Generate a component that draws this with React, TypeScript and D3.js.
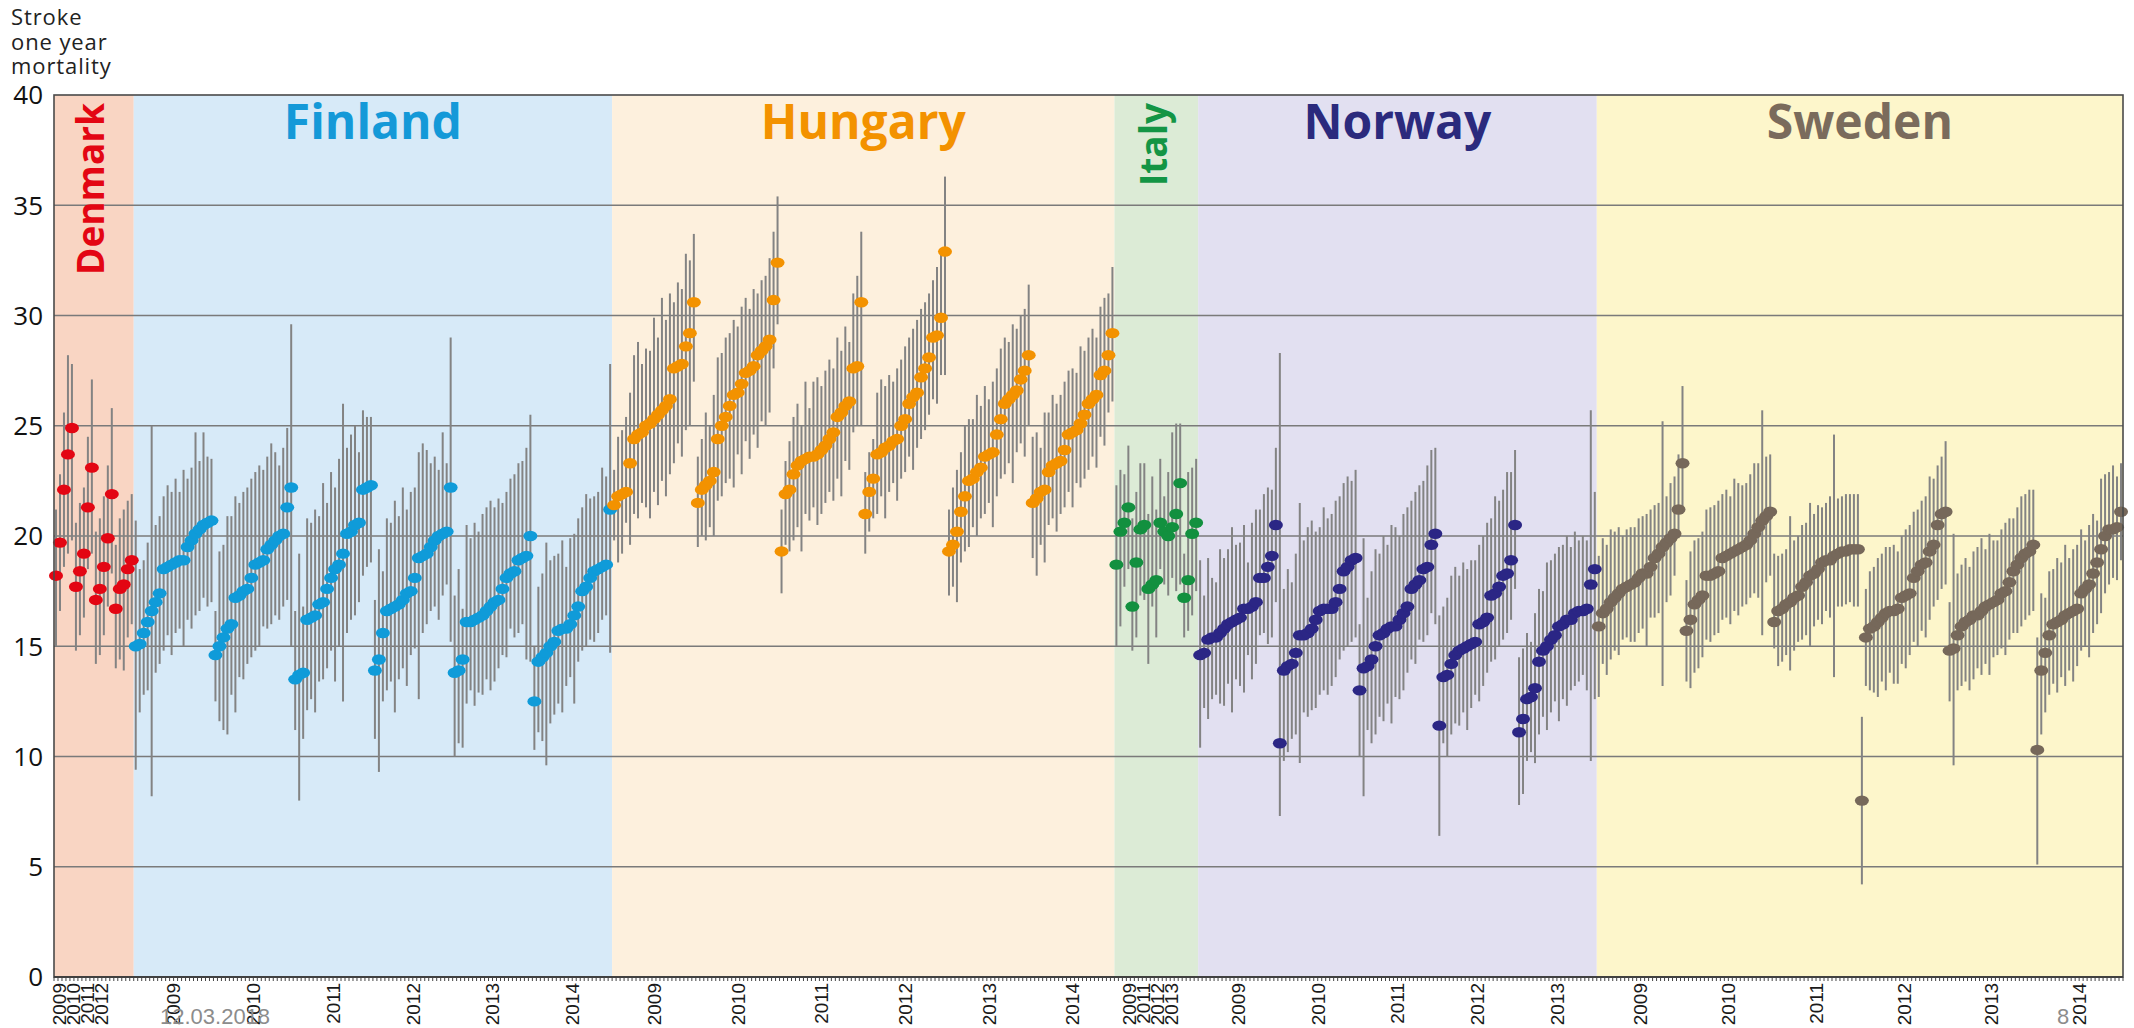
import React from "react";
import * as d3 from "d3";

// ---------------- DATA ----------------
const yTicks = [0, 5, 10, 15, 20, 25, 30, 35, 40];
const axisTitleLines = ["Stroke", "one year", "mortality"];

const denmarkYears = [2009, 2010, 2011, 2012];
const denmarkVal = [
  [18.2, 19.7, 22.1, 23.7, 24.9],
  [17.7, 18.4, 19.2, 21.3, 23.1],
  [17.1, 17.6, 18.6, 19.9, 21.9],
  [16.7, 17.6, 17.8, 18.5, 18.9],
];
const denmarkLo = [
  [15.0, 16.6, 18.6, 19.2, 19.8],
  [14.8, 15.5, 16.3, 18.5, 19.2],
  [14.2, 14.6, 15.5, 16.8, 18.3],
  [14.0, 14.4, 13.9, 15.4, 16.0],
];
const denmarkHi = [
  [21.2, 22.8, 25.6, 28.2, 27.8],
  [20.6, 21.5, 22.2, 24.5, 27.1],
  [20.2, 20.8, 21.8, 23.2, 25.8],
  [19.6, 20.8, 21.2, 21.6, 21.9],
];

const finlandYears = [2009, 2010, 2011, 2012, 2013, 2014];
const finlandVal = [
  [15.0, 15.1, 15.6, 16.1, 16.6, 17.0, 17.4, 18.5, 18.6, 18.7, 18.8, 18.9, 18.9, 19.5, 19.8, 20.1, 20.3, 20.5, 20.6, 20.7],
  [14.6, 15.0, 15.4, 15.8, 16.0, 17.2, 17.3, 17.5, 17.6, 18.1, 18.7, 18.8, 18.9, 19.4, 19.6, 19.8, 20.0, 20.1, 21.3, 22.2],
  [13.5, 13.7, 13.8, 16.2, 16.3, 16.4, 16.9, 17.0, 17.6, 18.1, 18.5, 18.7, 19.2, 20.1, 20.2, 20.5, 20.6, 22.1, 22.2, 22.3],
  [13.9, 14.4, 15.6, 16.6, 16.7, 16.8, 16.9, 17.1, 17.4, 17.5, 18.1, 19.0, 19.1, 19.2, 19.5, 19.8, 20.0, 20.1, 20.2, 22.2],
  [13.8, 13.9, 14.4, 16.1, 16.1, 16.2, 16.3, 16.4, 16.6, 16.8, 17.0, 17.1, 17.6, 18.1, 18.3, 18.4, 18.9, 19.0, 19.1, 20.0],
  [12.5, 14.3, 14.5, 14.7, 15.0, 15.2, 15.7, 15.8, 15.8, 16.0, 16.4, 16.8, 17.5, 17.7, 18.1, 18.4, 18.5, 18.6, 18.7, 21.2],
];
const finlandLo = [
  [9.4, 12.0, 12.8, 13.0, 8.2, 13.8, 14.2, 14.8, 15.5, 14.6, 15.6, 15.8, 15.0, 16.2, 15.8, 16.4, 16.6, 17.2, 16.8, 17.0],
  [12.5, 11.6, 11.2, 11.0, 12.8, 12.0, 13.6, 13.5, 14.2, 14.5, 14.8, 15.0, 15.9, 15.8, 16.0, 16.4, 16.2, 16.8, 17.1, 15.0],
  [11.2, 8.0, 10.8, 12.1, 12.6, 12.0, 13.4, 13.5, 14.0, 14.8, 13.4, 15.0, 12.5, 15.6, 16.2, 16.4, 17.0, 18.2, 18.6, 18.8],
  [10.8, 9.3, 12.5, 13.0, 13.4, 12.0, 13.5, 14.0, 13.2, 14.6, 14.9, 12.6, 15.6, 16.0, 16.6, 16.8, 16.2, 17.3, 17.8, 15.2],
  [10.0, 10.6, 10.4, 12.4, 13.0, 12.3, 12.9, 12.8, 13.5, 13.0, 13.4, 14.0, 14.6, 14.5, 15.8, 15.4, 15.6, 16.0, 14.4, 14.3],
  [10.3, 11.1, 10.7, 9.6, 11.5, 11.9, 12.4, 12.0, 13.2, 13.6, 12.4, 14.3, 14.8, 15.0, 15.3, 15.2, 15.6, 16.2, 16.4, 14.7],
];
const finlandHi = [
  [20.7, 18.5, 18.9, 19.7, 25.0, 20.5, 20.9, 21.8, 22.3, 22.0, 22.6, 22.0, 23.0, 22.6, 23.1, 24.7, 23.4, 24.7, 23.6, 23.5],
  [16.6, 19.3, 19.6, 20.9, 20.9, 21.8, 21.5, 22.0, 22.2, 22.6, 22.9, 23.2, 23.0, 23.6, 24.2, 23.8, 23.2, 24.0, 24.9, 29.6],
  [16.6, 19.2, 16.8, 20.8, 20.6, 21.2, 20.9, 22.4, 21.5, 22.9, 22.2, 23.5, 26.0, 24.0, 24.6, 25.0, 23.8, 25.7, 25.4, 25.4],
  [17.1, 19.4, 18.4, 20.8, 20.6, 21.6, 20.9, 22.2, 21.2, 22.0, 22.2, 23.8, 24.2, 23.9, 23.3, 23.6, 23.0, 24.7, 23.3, 29.0],
  [17.3, 18.5, 16.7, 20.5, 19.9, 20.6, 20.2, 21.0, 21.3, 21.6, 21.3, 21.7, 21.5, 22.0, 22.6, 22.8, 23.3, 23.4, 24.0, 25.5],
  [15.0, 17.7, 18.3, 19.7, 18.9, 19.1, 19.2, 19.8, 18.6, 19.9, 20.1, 20.8, 21.3, 21.9, 21.7, 21.8, 22.0, 23.1, 22.7, 27.8],
];

const hungaryYears = [2009, 2010, 2011, 2012, 2013, 2014];
const hungaryVal = [
  [21.4, 21.8, 21.9, 22.0, 23.3, 24.4, 24.6, 24.7, 25.0, 25.1, 25.3, 25.5, 25.7, 25.9, 26.2, 27.6, 27.7, 27.8, 28.6, 29.2, 30.6],
  [21.5, 22.1, 22.3, 22.5, 22.9, 24.4, 25.0, 25.4, 25.9, 26.4, 26.5, 26.9, 27.4, 27.5, 27.7, 28.2, 28.4, 28.6, 28.9, 30.7, 32.4],
  [19.3, 21.9, 22.1, 22.8, 23.2, 23.4, 23.5, 23.6, 23.6, 23.7, 23.9, 24.1, 24.4, 24.7, 25.4, 25.6, 25.9, 26.1, 27.6, 27.7, 30.6],
  [21.0, 22.0, 22.6, 23.7, 23.8, 24.0, 24.1, 24.3, 24.4, 25.0, 25.3, 26.0, 26.3, 26.5, 27.2, 27.6, 28.1, 29.0, 29.1, 29.9, 32.9],
  [19.3, 19.6, 20.2, 21.1, 21.8, 22.5, 22.6, 22.9, 23.1, 23.6, 23.7, 23.8, 24.6, 25.3, 26.0, 26.2, 26.4, 26.6, 27.1, 27.5, 28.2],
  [21.5, 21.7, 22.0, 22.1, 22.9, 23.2, 23.3, 23.4, 23.9, 24.6, 24.7, 24.8, 25.1, 25.5, 26.0, 26.2, 26.4, 27.3, 27.5, 28.2, 29.2],
];
const hungaryLo = [
  [19.8, 18.8, 19.2, 20.6, 19.6, 21.0, 20.8, 21.5, 21.3, 20.8, 22.0, 21.4, 22.5, 21.8, 22.8, 23.3, 24.2, 23.6, 24.8, 25.0, 27.0],
  [19.5, 20.0, 19.8, 20.4, 20.0, 21.6, 21.8, 22.4, 22.6, 22.2, 23.7, 22.8, 24.3, 23.5, 24.6, 24.0, 25.2, 25.0, 25.6, 27.6, 29.6],
  [17.4, 19.6, 19.3, 19.8, 20.4, 19.3, 21.0, 20.7, 21.3, 20.5, 21.0, 21.5, 22.0, 21.6, 22.6, 21.8, 23.4, 23.0, 24.7, 25.0, 25.0],
  [19.2, 20.2, 20.8, 21.0, 21.8, 20.8, 22.0, 22.4, 21.6, 22.6, 22.9, 23.6, 23.0, 24.0, 24.4, 24.8, 25.5, 26.2, 26.0, 27.3, 27.3],
  [17.3, 17.7, 17.0, 18.8, 19.3, 19.5, 20.4, 20.0, 20.8, 21.0, 21.5, 20.4, 21.8, 22.6, 22.8, 23.3, 22.4, 23.8, 24.2, 23.6, 25.0],
  [19.0, 18.2, 19.6, 18.8, 20.5, 20.8, 20.2, 21.0, 21.3, 22.0, 21.3, 22.4, 22.2, 22.6, 23.0, 23.6, 23.1, 24.5, 24.1, 25.6, 26.1],
];
const hungaryHi = [
  [23.0, 24.5, 24.8, 25.4, 26.5, 28.2, 28.8, 27.8, 28.5, 28.4, 29.9, 29.0, 30.8, 29.8, 31.0, 30.6, 31.5, 31.2, 32.8, 32.5, 33.7],
  [23.6, 24.4, 25.6, 25.0, 26.4, 28.1, 28.3, 29.0, 29.2, 29.8, 29.5, 30.4, 30.8, 30.3, 31.2, 31.0, 31.6, 31.8, 32.6, 33.8, 35.4],
  [21.2, 23.4, 24.3, 25.4, 26.0, 25.0, 27.0, 25.8, 27.0, 27.2, 26.8, 27.5, 28.0, 27.6, 29.0, 28.4, 29.5, 28.8, 31.0, 31.8, 33.8],
  [22.9, 23.8, 24.4, 26.5, 27.1, 26.8, 27.3, 27.0, 27.6, 28.0, 28.6, 29.0, 29.4, 29.8, 30.3, 30.6, 31.0, 31.6, 32.2, 33.0, 36.3],
  [21.2, 22.2, 23.0, 23.8, 25.0, 25.3, 25.3, 26.4, 25.9, 26.8, 26.2, 27.0, 27.6, 28.5, 29.0, 28.8, 29.6, 29.4, 30.0, 30.3, 31.4],
  [24.5, 24.7, 24.0, 25.6, 25.6, 26.4, 26.0, 26.4, 27.0, 27.5, 27.6, 27.4, 28.6, 28.4, 29.0, 29.4, 29.0, 30.4, 30.8, 31.0, 32.2],
];

const italyYears = [2009, 2011, 2012, 2013];
const italyVal = [
  [18.7, 20.2, 20.6, 21.3, 16.8],
  [18.8, 20.3, 20.5, 17.6, 17.8],
  [18.0, 20.6, 20.2, 20.0, 20.4, 21.0],
  [22.4, 17.2, 18.0, 20.1, 20.6],
];
const italyLo = [
  [15.0, 15.9, 17.7, 18.5, 14.8],
  [15.4, 17.3, 17.1, 14.2, 16.8],
  [15.4, 18.5, 17.8, 17.3, 18.1, 17.5],
  [17.8, 15.4, 15.7, 16.4, 17.5],
];
const italyHi = [
  [22.3, 23.0, 22.8, 24.1, 20.8],
  [22.0, 23.3, 23.3, 21.0, 22.7],
  [21.2, 23.5, 21.8, 22.9, 24.7, 25.1],
  [25.1, 19.2, 22.9, 23.1, 23.5],
];

const norwayYears = [2009, 2010, 2011, 2012, 2013];
const norwayVal = [
  [14.6, 14.7, 15.3, 15.4, 15.4, 15.6, 15.8, 16.0, 16.1, 16.2, 16.3, 16.7, 16.7, 16.8, 17.0, 18.1, 18.1, 18.6, 19.1, 20.5],
  [10.6, 13.9, 14.1, 14.2, 14.7, 15.5, 15.5, 15.6, 15.8, 16.2, 16.6, 16.7, 16.7, 16.7, 17.0, 17.6, 18.4, 18.6, 18.9, 19.0],
  [13.0, 14.0, 14.1, 14.4, 15.0, 15.5, 15.6, 15.8, 15.9, 15.9, 16.2, 16.5, 16.8, 17.6, 17.8, 18.0, 18.5, 18.6, 19.6, 20.1],
  [11.4, 13.6, 13.7, 14.2, 14.6, 14.8, 14.9, 15.0, 15.1, 15.2, 16.0, 16.1, 16.3, 17.3, 17.4, 17.7, 18.2, 18.3, 18.9, 20.5],
  [11.1, 11.7, 12.6, 12.7, 13.1, 14.3, 14.8, 15.0, 15.3, 15.5, 15.9, 16.0, 16.2, 16.2, 16.5, 16.6, 16.6, 16.7, 17.8, 18.5],
];
const norwayLo = [
  [10.4, 12.2, 11.7, 12.6, 12.8, 12.4, 12.3, 13.3, 12.0, 13.5, 13.2, 12.9, 14.6, 13.5, 14.2, 15.5, 15.6, 15.1, 15.4, 17.0],
  [7.3, 9.8, 10.2, 10.8, 11.0, 9.7, 12.0, 11.8, 12.1, 12.2, 12.8, 13.0, 12.8, 13.2, 13.6, 14.4, 14.8, 15.0, 15.2, 15.4],
  [10.0, 8.2, 11.2, 10.6, 11.0, 11.8, 11.6, 12.4, 11.5, 12.7, 12.6, 13.0, 13.8, 14.4, 14.2, 15.3, 15.2, 15.5, 16.5, 16.0],
  [6.4, 10.6, 10.0, 11.0, 11.5, 11.4, 12.0, 11.2, 12.2, 12.8, 12.5, 13.2, 13.8, 14.3, 14.4, 15.0, 15.3, 15.6, 16.2, 17.6],
  [7.8, 8.3, 9.8, 10.2, 9.7, 11.0, 11.8, 11.2, 12.0, 12.5, 11.6, 12.6, 12.3, 13.0, 13.2, 13.4, 13.7, 13.0, 9.8, 12.6],
];
const norwayHi = [
  [18.9, 17.3, 19.0, 18.1, 17.9, 19.4, 19.0, 19.4, 20.4, 19.6, 19.7, 20.5, 18.8, 20.6, 21.2, 21.2, 21.9, 22.2, 22.1, 24.0],
  [28.3, 17.6, 18.5, 17.9, 19.2, 21.5, 19.8, 20.4, 20.7, 20.2, 20.4, 21.3, 20.8, 21.0, 21.6, 21.8, 22.4, 22.7, 22.5, 23.0],
  [16.0, 19.9, 17.2, 18.4, 19.4, 19.2, 20.0, 19.6, 20.5, 20.4, 20.0, 21.0, 21.3, 21.6, 22.0, 22.3, 22.5, 23.2, 23.9, 24.0],
  [16.4, 16.8, 17.2, 18.2, 18.6, 18.2, 18.8, 18.5, 18.9, 18.9, 19.6, 20.0, 20.6, 20.8, 21.8, 21.6, 22.1, 22.9, 22.9, 23.9],
  [14.5, 14.9, 15.6, 15.2, 16.5, 17.6, 17.5, 18.8, 18.9, 19.2, 19.5, 19.6, 20.0, 19.5, 20.2, 19.8, 20.0, 19.8, 25.7, 22.0],
];

const swedenYears = [2009, 2010, 2011, 2012, 2013, 2014];
const swedenVal = [
  [15.9, 16.5, 16.7, 17.0, 17.2, 17.4, 17.6, 17.7, 17.8, 17.9, 18.1, 18.3, 18.3, 18.6, 19.0, 19.2, 19.5, 19.7, 19.9, 20.1, 21.2, 23.3],
  [15.7, 16.2, 16.9, 17.1, 17.3, 18.2, 18.2, 18.3, 18.4, 19.0, 19.1, 19.2, 19.3, 19.4, 19.5, 19.6, 19.8, 20.1, 20.4, 20.7, 20.9, 21.1],
  [16.1, 16.6, 16.7, 16.9, 17.0, 17.2, 17.3, 17.7, 17.9, 18.2, 18.3, 18.5, 18.8, 18.9, 18.9, 19.1, 19.2, 19.3, 19.3, 19.4, 19.4, 19.4],
  [8.0, 15.4, 15.8, 15.9, 16.1, 16.3, 16.5, 16.6, 16.6, 16.7, 17.2, 17.3, 17.4, 18.1, 18.4, 18.7, 18.8, 19.3, 19.6, 20.5, 21.0, 21.1],
  [14.8, 14.9, 15.5, 15.9, 16.1, 16.2, 16.4, 16.4, 16.6, 16.8, 16.9, 17.0, 17.1, 17.4, 17.5, 17.9, 18.4, 18.7, 19.0, 19.2, 19.3, 19.6],
  [10.3, 13.9, 14.7, 15.5, 16.0, 16.1, 16.2, 16.4, 16.5, 16.6, 16.7, 17.4, 17.6, 17.8, 18.3, 18.8, 19.4, 20.0, 20.3, 20.3, 20.4, 21.1],
];
const swedenLo = [
  [12.7, 14.2, 13.7, 14.4, 14.8, 14.6, 15.3, 15.4, 15.2, 15.2, 15.6, 15.8, 15.0, 16.3, 16.3, 16.5, 13.2, 17.0, 17.3, 18.2, 19.9, 21.3],
  [13.4, 13.1, 13.8, 14.0, 14.5, 15.3, 15.2, 15.5, 15.6, 16.2, 16.3, 16.0, 16.6, 16.4, 16.8, 16.9, 17.2, 17.4, 17.2, 15.5, 17.9, 18.2],
  [14.9, 14.1, 14.3, 14.6, 13.9, 14.8, 15.2, 15.3, 15.5, 15.0, 15.9, 16.2, 16.0, 16.6, 16.3, 13.6, 16.8, 16.8, 16.9, 17.0, 16.8, 16.8],
  [4.2, 13.2, 13.0, 12.9, 12.7, 13.4, 13.0, 13.8, 13.3, 13.3, 14.2, 14.0, 14.6, 15.2, 15.0, 15.7, 15.4, 16.2, 16.8, 17.1, 17.6, 17.8],
  [12.5, 9.6, 13.0, 13.2, 13.4, 13.0, 13.5, 14.0, 13.7, 14.2, 13.7, 14.5, 14.6, 14.9, 14.6, 15.3, 15.6, 15.6, 15.9, 16.2, 16.4, 16.6],
  [5.1, 11.0, 12.0, 12.8, 13.3, 12.9, 13.6, 13.2, 13.9, 13.4, 14.1, 14.8, 15.0, 14.5, 15.6, 16.0, 16.5, 17.4, 17.8, 18.1, 18.0, 18.9],
];
const swedenHi = [
  [19.1, 19.9, 19.6, 20.3, 20.2, 20.4, 20.0, 20.3, 20.4, 20.4, 20.8, 20.9, 21.0, 21.2, 21.4, 21.5, 25.2, 21.8, 22.4, 22.7, 23.7, 26.8],
  [18.0, 19.3, 19.8, 19.9, 20.2, 21.2, 21.3, 21.4, 21.6, 21.9, 22.1, 21.8, 22.6, 22.4, 22.3, 22.4, 22.8, 23.3, 23.3, 25.7, 23.6, 23.7],
  [19.2, 19.1, 19.2, 19.4, 20.9, 19.8, 20.0, 20.5, 20.6, 21.5, 21.0, 21.4, 21.3, 21.5, 21.8, 24.6, 21.7, 21.8, 21.9, 21.9, 21.9, 21.9],
  [11.8, 17.6, 18.4, 18.6, 19.0, 19.2, 19.5, 19.5, 19.6, 19.3, 20.0, 20.3, 20.5, 21.1, 21.2, 21.6, 21.8, 22.7, 22.6, 23.2, 23.6, 24.3],
  [17.0, 20.1, 18.3, 18.7, 19.0, 18.6, 19.3, 19.5, 19.9, 19.4, 20.1, 19.8, 19.8, 20.3, 20.6, 20.8, 20.8, 21.3, 21.8, 21.9, 22.1, 22.1],
  [15.4, 17.4, 17.2, 18.4, 18.5, 19.0, 18.8, 19.6, 19.0, 19.4, 19.6, 20.3, 19.8, 20.5, 21.0, 20.7, 22.6, 22.8, 22.9, 23.2, 22.7, 23.3],
];

// ---------------- STYLE / CONFIG ----------------
const countries = [
  { name: "Denmark", years: denmarkYears, val: denmarkVal, lo: denmarkLo, hi: denmarkHi, bg: "#f9d5c3", dot: "#e30613", title: "#e30613", vertical: true, labelOffset: 5 },
  { name: "Finland", years: finlandYears, val: finlandVal, lo: finlandLo, hi: finlandHi, bg: "#d7eaf8", dot: "#0f9bd9", title: "#1499d8", vertical: false, labelOffset: 0 },
  { name: "Hungary", years: hungaryYears, val: hungaryVal, lo: hungaryLo, hi: hungaryHi, bg: "#fdf0dd", dot: "#f39200", title: "#f39200", vertical: false, labelOffset: 0 },
  { name: "Italy", years: italyYears, val: italyVal, lo: italyLo, hi: italyHi, bg: "#dcebd6", dot: "#12903f", title: "#139545", vertical: true, labelOffset: 15 },
  { name: "Norway", years: norwayYears, val: norwayVal, lo: norwayLo, hi: norwayHi, bg: "#e2e0f1", dot: "#2b2685", title: "#2b2a7d", vertical: false, labelOffset: 0 },
  { name: "Sweden", years: swedenYears, val: swedenVal, lo: swedenLo, hi: swedenHi, bg: "#fdf6cb", dot: "#76685a", title: "#7a6b5c", vertical: false, labelOffset: 0 },
];

const W = 2134;
const H = 1028;
const PL = 54;
const PR = 2123;
const PT = 95;
const PB = 977;

export default function App() {
  type Pt = { i: number; v: number; lo: number; hi: number; color: string };
  const pts: Pt[] = [];
  const regions: { c: (typeof countries)[number]; start: number; end: number }[] = [];
  const segs: { ci: number; si: number; year: number; start: number; end: number }[] = [];
  let idx = 0;
  countries.forEach((c, ci) => {
    const start = idx;
    c.val.forEach((seg, si) => {
      const s0 = idx;
      seg.forEach((v, k) => {
        pts.push({ i: idx, v, lo: c.lo[si][k], hi: c.hi[si][k], color: c.dot });
        idx++;
      });
      segs.push({ ci, si, year: c.years[si], start: s0, end: idx });
    });
    regions.push({ c, start, end: idx });
  });
  const N = idx;

  const x = d3.scaleBand<number>().domain(d3.range(N)).range([PL, PR]).padding(0);
  const bw = x.bandwidth();
  const cx = (i: number) => (x(i) as number) + bw / 2;
  const y = d3.scaleLinear().domain([0, 40]).range([PB, PT]);

  const left = (i: number) => x(i) as number;
  const right = (i: number) => (x(i) as number) + bw;

  const yearLabels = segs.map((s) => {
    const reg = regions[s.ci];
    const segW = right(s.end - 1) - left(s.start);
    let lx: number;
    if (segW < 40) {
      lx = left(reg.start) + reg.c.labelOffset + s.si * 14;
    } else {
      lx = (left(s.start) + right(s.end - 1)) / 2;
    }
    return { x: lx, text: String(s.year) };
  });

  const font = "'Open Sans', 'DejaVu Sans', sans-serif";
  const axisFont = "'Liberation Sans', Arial, sans-serif";

  return (
    <svg
      width={W}
      height={H}
      viewBox={`0 0 ${W} ${H}`}
      style={{ position: "absolute", left: 0, top: 0, background: "#ffffff" }}
    >
      <rect x={0} y={0} width={W} height={H} fill="#ffffff" />
      {/* axis title */}
      <g fontFamily={font} fontSize={22} fill="#222" letterSpacing={0.9}>
        {axisTitleLines.map((t, k) => (
          <text key={t} x={11} y={25 + k * 24.5}>
            {t}
          </text>
        ))}
      </g>

      {/* country backgrounds */}
      {regions.map((r) => (
        <rect
          key={r.c.name}
          x={left(r.start)}
          y={PT}
          width={right(r.end - 1) - left(r.start)}
          height={PB - PT}
          fill={r.c.bg}
        />
      ))}

      {/* gridlines */}
      {yTicks
        .filter((t) => t > 0 && t < 40)
        .map((t) => (
          <line key={t} x1={PL} x2={PR} y1={y(t)} y2={y(t)} stroke="#7a7a7a" strokeWidth={1.6} />
        ))}

      {/* country titles */}
      {regions.map((r) => {
        const mid = (left(r.start) + right(r.end - 1)) / 2;
        if (r.c.vertical) {
          return (
            <text
              key={r.c.name}
              transform={`translate(${mid - 3},${PT + 8}) rotate(-90)`}
              textAnchor="end"
              dy="0.36em"
              fontFamily={font}
              fontWeight={700}
              fontSize={37}
              fill={r.c.title}
            >
              {r.c.name}
            </text>
          );
        }
        return (
          <text
            key={r.c.name}
            x={mid}
            y={139}
            textAnchor="middle"
            fontFamily={font}
            fontWeight={700}
            fontSize={48}
            fill={r.c.title}
          >
            {r.c.name}
          </text>
        );
      })}

      {/* CI lines */}
      {pts.map((p) => (
        <line
          key={"ci" + p.i}
          x1={cx(p.i)}
          x2={cx(p.i)}
          y1={y(p.lo)}
          y2={y(p.hi)}
          stroke="#838383"
          strokeWidth={2}
        />
      ))}

      {/* dots */}
      {pts.map((p) => (
        <ellipse key={"pt" + p.i} cx={cx(p.i)} cy={y(p.v)} rx={7} ry={5.2} fill={p.color} />
      ))}

      {/* frame */}
      <rect x={PL} y={PT} width={PR - PL} height={PB - PT} fill="none" stroke="#4a4a4a" strokeWidth={1.6} />
      <line x1={PL} x2={PR} y1={PB} y2={PB} stroke="#333" strokeWidth={1.6} />

      {/* x ticks */}
      {d3.range(N + 1).map((i) => {
        const tx = i < N ? left(i) : right(N - 1);
        return <line key={"t" + i} x1={tx} x2={tx} y1={PB} y2={PB + 4} stroke="#444" strokeWidth={1} />;
      })}

      {/* y labels */}
      {yTicks.map((t) => (
        <text
          key={"yl" + t}
          x={43}
          y={y(t)}
          dy="0.36em"
          textAnchor="end"
          fontFamily={font}
          fontSize={26}
          fill="#111"
        >
          {t}
        </text>
      ))}

      {/* year labels */}
      {yearLabels.map((l, k) => (
        <text
          key={"yr" + k}
          transform={`translate(${l.x},${PB + 6}) rotate(-90)`}
          textAnchor="end"
          dy="0.36em"
          fontFamily={axisFont}
          fontSize={19}
          fill="#1a1a1a"
        >
          {l.text}
        </text>
      ))}

      {/* slide footer remnants */}
      <text x={160} y={1024} fontFamily={axisFont} fontSize={22} fill="#8c8c8c">12.03.2018</text>
      <text x={2057} y={1024} fontFamily={axisFont} fontSize={22} fill="#8c8c8c">8</text>
    </svg>
  );
}
